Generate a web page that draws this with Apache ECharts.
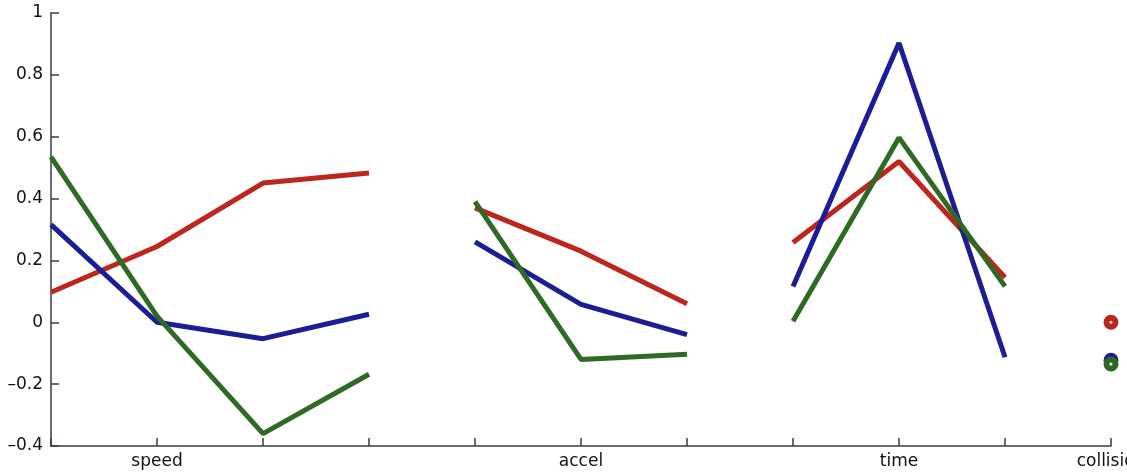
<!DOCTYPE html>
<html>
<head>
<meta charset="utf-8">
<script src="https://cdn.jsdelivr.net/npm/echarts@6/dist/echarts.min.js"></script>
<style>
  html, body { margin: 0; padding: 0; background: #fff; }
  #chart { width: 1127px; height: 472px; }
</style>
</head>
<body>
<div id="chart"></div>
<script>
// x positions: speed 0-3, accel 4-6, time 7-9, collision 10
const categories = ['', 'speed', '', '', '', 'accel', '', '', 'time', '', 'collision'];

const speedRed = [0.097, 0.245, 0.45, 0.483];
const speedBlue = [0.316, 0.0, -0.053, 0.026];
const speedGreen = [0.535, 0.02, -0.36, -0.168];

const accelRed = [0.37, 0.23, 0.06];
const accelBlue = [0.26, 0.058, -0.04];
const accelGreen = [0.39, -0.12, -0.103];

const timeRed = [0.258, 0.52, 0.145];
const timeBlue = [0.116, 0.903, -0.113];
const timeGreen = [0.003, 0.597, 0.116];

const collisionRed = [0.0];
const collisionBlue = [-0.123];
const collisionGreen = [-0.135];

const groupStart = { speed: 0, accel: 4, time: 7, collision: 10 };

const colors = { red: '#bc261c', blue: '#1c1c96', green: '#2f6a24' };
const axisColor = '#3a3a48';
const labelFont = 'DejaVu Sans, sans-serif';

// turn a group's values into [categoryIndex, value] pairs
function toPairs(values, start) {
  return values.map((v, i) => [start + i, v]);
}

function lineSeries(values, start, color) {
  return {
    type: 'line',
    data: toPairs(values, start),
    showSymbol: false,
    lineStyle: { color: color, width: 5 },
    itemStyle: { color: color },
    silent: true,
  };
}

function markerSeries(values, color) {
  return {
    type: 'scatter',
    data: toPairs(values, groupStart.collision),
    symbol: 'circle',
    symbolSize: 9,
    itemStyle: { color: '#fff', borderColor: color, borderWidth: 6, opacity: 1 },
    silent: true,
  };
}

const series = [];
[
  ['red', speedRed, accelRed, timeRed, collisionRed],
  ['blue', speedBlue, accelBlue, timeBlue, collisionBlue],
  ['green', speedGreen, accelGreen, timeGreen, collisionGreen],
].forEach(([name, sp, ac, tm, co]) => {
  const c = colors[name];
  series.push(lineSeries(sp, groupStart.speed, c));
  series.push(lineSeries(ac, groupStart.accel, c));
  series.push(lineSeries(tm, groupStart.time, c));
  series.push(markerSeries(co, c));
});

const chart = echarts.init(document.getElementById('chart'));
chart.setOption({
  animation: false,
  backgroundColor: '#fff',
  grid: {
    left: 51, right: 16, top: 13, bottom: 26,
    containLabel: false,
    outerBoundsMode: 'none',
  },
  xAxis: {
    type: 'category',
    data: categories,
    boundaryGap: false,
    axisLine: { onZero: false, lineStyle: { color: axisColor, width: 1.5 } },
    axisTick: { inside: true, length: 8, interval: 0, lineStyle: { color: axisColor, width: 1.5 } },
    axisLabel: {
      interval: 0,
      color: '#111',
      fontSize: 17,
      fontFamily: labelFont,
      margin: 7,
      hideOverlap: false,
    },
    splitLine: { show: false },
  },
  yAxis: {
    type: 'value',
    min: -0.4,
    max: 1,
    interval: 0.2,
    axisLine: { show: true, lineStyle: { color: axisColor, width: 1.5 } },
    axisTick: { show: true, inside: true, length: 8, lineStyle: { color: axisColor, width: 1.5 } },
    axisLabel: {
      color: '#111',
      fontSize: 17,
      fontFamily: labelFont,
      margin: 8,
      formatter: (v) => {
        const s = String(Math.round(v * 10) / 10);
        return s.replace('-', '\u2013');
      },
    },
    splitLine: { show: false },
  },
  series: series,
});
</script>
</body>
</html>
